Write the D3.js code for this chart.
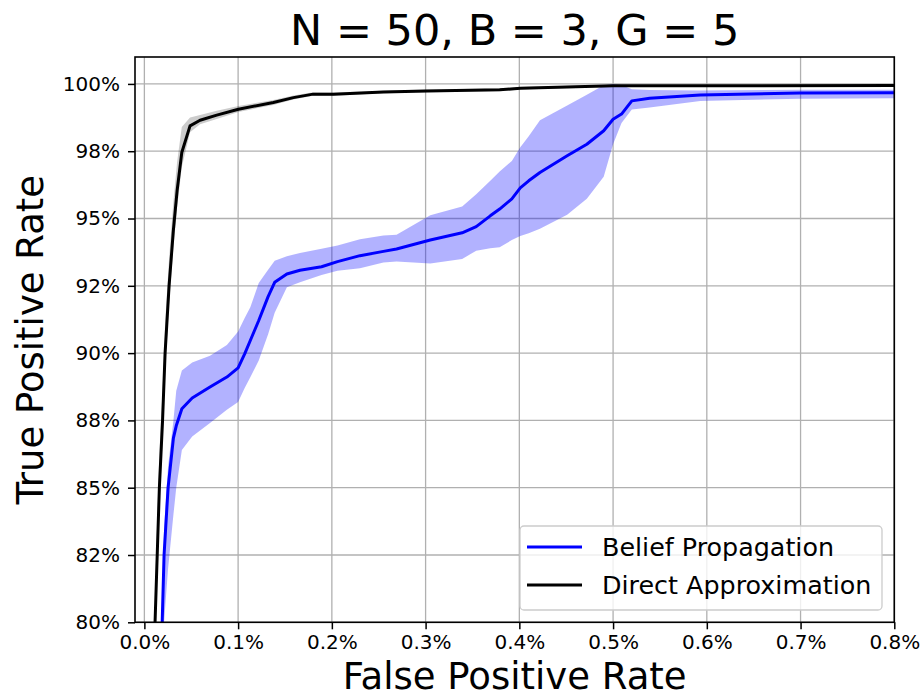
<!DOCTYPE html>
<html>
<head>
<meta charset="utf-8">
<script src="https://cdn.jsdelivr.net/npm/d3@7"></script>
<style>
  body { margin: 0; background: #fff; }
  text { font-family: "DejaVu Sans", sans-serif; fill: #000; }
</style>
</head>
<body>
<div id="chart"></div>
<script>
"use strict";

// values in percent
var bpFpr = [0.019, 0.021, 0.0253, 0.031, 0.034, 0.040, 0.051, 0.070, 0.088, 0.100, 0.107, 0.113, 0.122, 0.132, 0.139, 0.152, 0.166, 0.189, 0.206, 0.230, 0.255, 0.269, 0.305, 0.339, 0.354, 0.369, 0.379, 0.392, 0.401, 0.410, 0.422, 0.451, 0.472, 0.490, 0.500, 0.509, 0.520, 0.539, 0.593, 0.699, 0.800];
var bpTpr = [80.0, 82.5, 85.0, 86.85, 87.3, 87.93, 88.33, 88.74, 89.11, 89.45, 89.97, 90.47, 91.21, 92.10, 92.63, 92.94, 93.08, 93.21, 93.40, 93.62, 93.78, 93.87, 94.20, 94.47, 94.70, 95.10, 95.35, 95.73, 96.14, 96.40, 96.71, 97.33, 97.76, 98.26, 98.69, 98.88, 99.37, 99.47, 99.59, 99.66, 99.67];
var bpHi  = [80.8, 83.5, 85.8, 87.5, 88.6, 89.35, 89.65, 89.9, 90.3, 90.8, 91.3, 91.7, 92.6, 93.1, 93.43, 93.6, 93.72, 93.88, 94.0, 94.23, 94.37, 94.4, 95.12, 95.45, 95.9, 96.4, 96.75, 97.14, 97.65, 98.06, 98.65, 99.2, 99.6, 99.95, 100.0, 99.96, 99.8, 99.77, 99.76, 99.78, 99.78];
var bpLo  = [79.0, 80.0, 82.0, 84.0, 85.0, 86.4, 86.9, 87.4, 87.9, 88.18, 88.7, 89.1, 89.73, 90.7, 91.5, 92.45, 92.63, 92.9, 93.06, 93.15, 93.37, 93.4, 93.33, 93.5, 93.8, 93.9, 93.93, 94.2, 94.35, 94.45, 94.62, 95.14, 95.73, 96.55, 97.76, 98.55, 99.05, 99.12, 99.37, 99.45, 99.47];

var daFpr = [0.0114, 0.016, 0.0194, 0.0221, 0.0263, 0.0309, 0.0349, 0.0399, 0.0487, 0.0594, 0.0772, 0.1003, 0.1376, 0.159, 0.180, 0.2016, 0.255, 0.301, 0.379, 0.401, 0.50, 0.60, 0.80];
var daTpr = [80.0, 85.0, 87.5, 90.0, 92.47, 94.55, 96.03, 97.45, 98.44, 98.65, 98.84, 99.06, 99.31, 99.49, 99.62, 99.62, 99.70, 99.74, 99.78, 99.84, 99.93, 99.93, 99.94];
var daHi  = [81.2, 86.3, 88.6, 91.1, 93.5, 95.6, 97.1, 98.4, 98.75, 98.85, 99.0, 99.18, 99.4, 99.57, 99.69, 99.68, 99.75, 99.79, 99.83, 99.89, 99.97, 99.97, 99.98];
var daLo  = [79.2, 84.2, 86.8, 89.3, 91.8, 93.9, 95.4, 96.9, 98.2, 98.5, 98.7, 98.96, 99.22, 99.42, 99.56, 99.56, 99.65, 99.69, 99.73, 99.79, 99.89, 99.89, 99.9];

var xTicks = [0, 0.1, 0.2, 0.3, 0.4, 0.5, 0.6, 0.7, 0.8];
var xTickLabels = ["0.0%", "0.1%", "0.2%", "0.3%", "0.4%", "0.5%", "0.6%", "0.7%", "0.8%"];
var yTicks = [80, 82.5, 85, 87.5, 90, 92.5, 95, 97.5, 100];
var yTickLabels = ["80%", "82%", "85%", "88%", "90%", "92%", "95%", "98%", "100%"];
var seriesNames = ["Belief Propagation", "Direct Approximation"];
var seriesColors = ["#0000ff", "#000000"];

var width = 924, height = 699;
var plotL = 135, plotR = 894.3, plotT = 57, plotB = 622.3;

var svg = d3.select('#chart').append('svg')
  .attr('width', width)
  .attr('height', height);

var x = d3.scaleLinear().domain([-0.01, 0.8]).range([plotL, plotR]);
var y = d3.scaleLinear().domain([80, 101]).range([plotB, plotT]);

svg.append('defs').append('clipPath').attr('id', 'clip')
  .append('rect')
  .attr('x', plotL).attr('y', plotT)
  .attr('width', plotR - plotL).attr('height', plotB - plotT);

// grid
var grid = svg.append('g');
grid.selectAll('.vg').data(xTicks).enter().append('line')
  .attr('x1', d => x(d)).attr('x2', d => x(d))
  .attr('y1', plotT).attr('y2', plotB)
  .attr('stroke', '#b0b0b0').attr('stroke-width', 1.3);
grid.selectAll('.hg').data(yTicks).enter().append('line')
  .attr('x1', plotL).attr('x2', plotR)
  .attr('y1', d => y(d)).attr('y2', d => y(d))
  .attr('stroke', '#b0b0b0').attr('stroke-width', 1.3);

function rows(fpr, tpr, lo, hi) {
  return fpr.map(function(f, i) { return { f: f, t: tpr[i], lo: lo[i], hi: hi[i] }; });
}
var bp = rows(bpFpr, bpTpr, bpLo, bpHi);
var da = rows(daFpr, daTpr, daLo, daHi);

var area = d3.area().x(d => x(d.f)).y0(d => y(d.lo)).y1(d => y(d.hi));
var line = d3.line().x(d => x(d.f)).y(d => y(d.t));

var plot = svg.append('g').attr('clip-path', 'url(#clip)');
plot.append('path').datum(bp).attr('d', area)
  .attr('fill', '#0000ff').attr('fill-opacity', 0.3);
plot.append('path').datum(bp).attr('d', line)
  .attr('fill', 'none').attr('stroke', seriesColors[0]).attr('stroke-width', 3)
  .attr('stroke-linejoin', 'round');
plot.append('path').datum(da).attr('d', area)
  .attr('fill', '#000000').attr('fill-opacity', 0.2);
plot.append('path').datum(da).attr('d', line)
  .attr('fill', 'none').attr('stroke', seriesColors[1]).attr('stroke-width', 3)
  .attr('stroke-linejoin', 'round');

// axes
var xAxis = d3.axisBottom(x).tickValues(xTicks)
  .tickFormat((d, i) => xTickLabels[i]).tickSize(7).tickPadding(6);
var yAxis = d3.axisLeft(y).tickValues(yTicks)
  .tickFormat((d, i) => yTickLabels[i]).tickSize(7).tickPadding(8);

var gx = svg.append('g').attr('transform', 'translate(0,' + plotB + ')').call(xAxis);
var gy = svg.append('g').attr('transform', 'translate(' + plotL + ',0)').call(yAxis);
[gx, gy].forEach(function(g) {
  g.select('.domain').remove();
  g.selectAll('.tick line').attr('stroke', '#000').attr('stroke-width', 1.5);
  g.selectAll('.tick text').style('font-size', '20px').style('font-family', '"DejaVu Sans", sans-serif');
});

// frame
svg.append('rect')
  .attr('x', plotL).attr('y', plotT)
  .attr('width', plotR - plotL).attr('height', plotB - plotT)
  .attr('fill', 'none').attr('stroke', '#000').attr('stroke-width', 1.6);

// titles
svg.append('text')
  .attr('x', (plotL + plotR) / 2).attr('y', 45)
  .attr('text-anchor', 'middle')
  .style('font-size', '43px')
  .text('N = 50, B = 3, G = 5');
svg.append('text')
  .attr('x', (plotL + plotR) / 2).attr('y', 689)
  .attr('text-anchor', 'middle')
  .style('font-size', '37px')
  .text('False Positive Rate');
svg.append('text')
  .attr('transform', 'translate(43,' + ((plotT + plotB) / 2) + ') rotate(-90)')
  .attr('text-anchor', 'middle')
  .style('font-size', '37px')
  .text('True Positive Rate');

// legend
var legend = svg.append('g');
legend.append('rect')
  .attr('x', 520).attr('y', 526).attr('width', 362).attr('height', 84)
  .attr('rx', 4)
  .attr('fill', '#fff').attr('fill-opacity', 0.8)
  .attr('stroke', '#cccccc').attr('stroke-width', 1.3);
var items = legend.selectAll('.item').data(seriesNames).enter().append('g')
  .attr('transform', (d, i) => 'translate(0,' + (547 + i * 38) + ')');
items.append('line')
  .attr('x1', 527).attr('x2', 582)
  .attr('stroke', (d, i) => seriesColors[i]).attr('stroke-width', 3);
items.append('text')
  .attr('x', 602).attr('y', 9)
  .style('font-size', '25.4px')
  .text(d => d);
</script>
</body>
</html>
